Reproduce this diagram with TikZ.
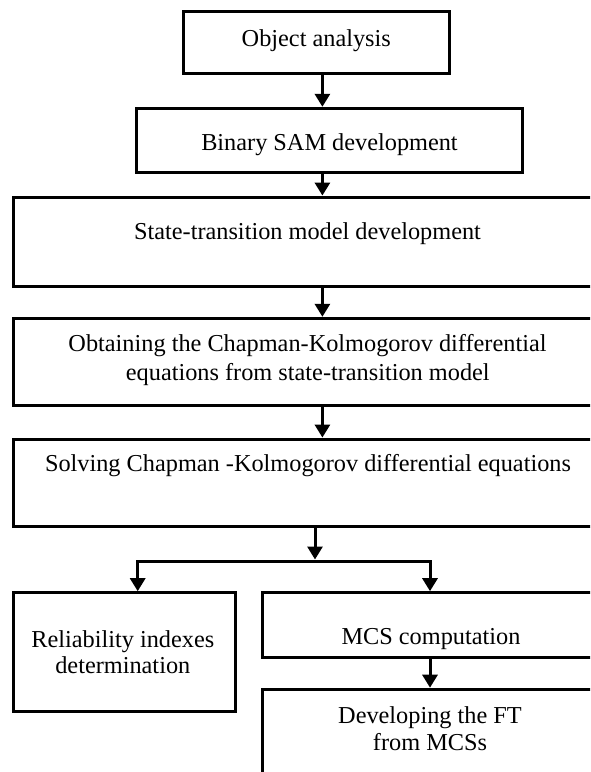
\documentclass[tikz,border=0pt]{standalone}
\usepackage{fontspec}
\setmainfont{Liberation Serif}
\usetikzlibrary{arrows.meta}
\begin{document}
\begin{tikzpicture}[x=1pt,y=-1pt,
  box/.style={draw=black, line width=3pt, rectangle, inner sep=0pt},
  txt/.style={anchor=base, inner sep=0pt, font=\fontsize{24.3pt}{28pt}\selectfont},
  arr/.style={line width=3pt, -{Triangle[width=15pt,length=13pt]}}
]
\useasboundingbox (0,0) rectangle (590,772);
\clip (0,0) rectangle (590,772);
\fill[white] (0,0) rectangle (590,772);

% boxes
\node[box, minimum width=266pt, minimum height=61.6pt] (oa) at (316.3,42.5) {};
\node[box, minimum width=386pt, minimum height=64.4pt] (bs) at (329.7,140.5) {};
\node[box, minimum width=588.7pt, minimum height=89.7pt] (st) at (307.7,241.9) {};
\node[box, minimum width=588.7pt, minimum height=87.2pt] (ck) at (307.7,361.9) {};
\node[box, minimum width=588.7pt, minimum height=87.7pt] (sv) at (307.7,482.9) {};
\node[box, minimum width=221.7pt, minimum height=119pt] (ri) at (124.2,652.2) {};
\node[box, minimum width=337.3pt, minimum height=64.6pt] (mcs) at (431.3,625) {};
\node[box, minimum width=337.3pt, minimum height=111pt] (ft) at (431.3,744.7) {};

% texts
\node[txt] (toa) at (316.3,46) {Object analysis};
\node[txt] (tbs) at (329.5,150) {Binary SAM development};
\node[txt] (tst) at (307.5,239) {State-transition model development};
\node[txt] (tck1) at (307.5,351.7) {Obtaining the Chapman-Kolmogorov differential};
\node[txt] (tck2) at (307.8,380) {equations from state-transition model};
\node[txt] (tsv) at (308,471.7) {Solving Chapman -Kolmogorov differential equations};
\node[txt] (tri1) at (122.8,647) {Reliability indexes};
\node[txt] (tri2) at (122.8,673.3) {determination};
\node[txt] (tmcs) at (431,644) {MCS computation};
\node[txt] (tft1) at (430,723.3) {Developing the FT};
\node[txt] (tft2) at (430,750.7) {from MCSs};

% connectors
\coordinate (col) at (322.4,0);
\coordinate (brM) at (315,561);
\coordinate (brL) at (137.7,561);
\coordinate (brR) at (430,561);
\draw[arr] (oa.south -| col) -- (bs.north -| col);
\draw[arr] (bs.south -| col) -- (st.north -| col);
\draw[arr] (st.south -| col) -- (ck.north -| col);
\draw[arr] (ck.south -| col) -- (sv.north -| col);
\draw[arr, shorten >=1.5pt] (sv.south -| brM) -- (brM);
\draw[arr] (brM) -| (ri.north -| brL);
\draw[arr] (brM) -| (mcs.north -| brR);
\draw[arr] (mcs.south -| brR) -- (ft.north -| brR);
\end{tikzpicture}
\end{document}
